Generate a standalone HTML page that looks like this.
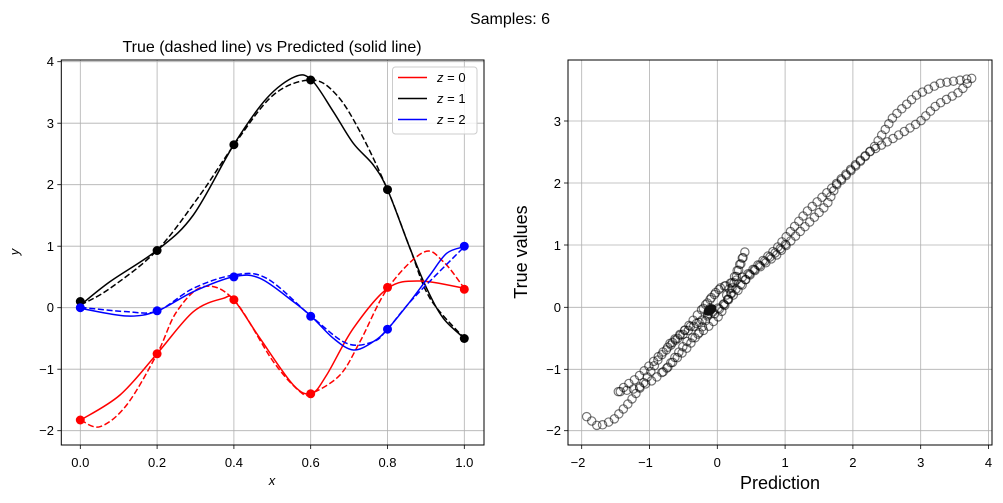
<!DOCTYPE html>
<html><head><meta charset="utf-8"><style>
body{margin:0;background:#fff;}
svg{display:block;font-family:"Liberation Sans","DejaVu Sans",sans-serif;}
</style></head><body>
<svg id="s" width="1003" height="503" viewBox="0 0 1003 503" xmlns="http://www.w3.org/2000/svg">
<rect width="1003" height="503" fill="#fff"/>
<text x="510" y="24" font-size="16" text-anchor="middle">Samples: 6</text>
<text x="272" y="52" font-size="16" text-anchor="middle">True (dashed line) vs Predicted (solid line)</text>
<g stroke="#b0b0b0" stroke-width="0.8">
<line x1="80.3" y1="60" x2="80.3" y2="445"/><line x1="157.1" y1="60" x2="157.1" y2="445"/><line x1="233.9" y1="60" x2="233.9" y2="445"/><line x1="310.7" y1="60" x2="310.7" y2="445"/><line x1="387.5" y1="60" x2="387.5" y2="445"/><line x1="464.3" y1="60" x2="464.3" y2="445"/>
<line x1="61.3" y1="61.7" x2="484" y2="61.7"/><line x1="61.3" y1="123.2" x2="484" y2="123.2"/><line x1="61.3" y1="184.7" x2="484" y2="184.7"/><line x1="61.3" y1="246.2" x2="484" y2="246.2"/><line x1="61.3" y1="307.7" x2="484" y2="307.7"/><line x1="61.3" y1="369.2" x2="484" y2="369.2"/><line x1="61.3" y1="430.7" x2="484" y2="430.7"/>
</g>
<g stroke="#000" stroke-width="0.8">
<line x1="80.3" y1="445" x2="80.3" y2="449"/><line x1="157.1" y1="445" x2="157.1" y2="449"/><line x1="233.9" y1="445" x2="233.9" y2="449"/><line x1="310.7" y1="445" x2="310.7" y2="449"/><line x1="387.5" y1="445" x2="387.5" y2="449"/><line x1="464.3" y1="445" x2="464.3" y2="449"/>
<line x1="57.3" y1="61.7" x2="61.3" y2="61.7"/><line x1="57.3" y1="123.2" x2="61.3" y2="123.2"/><line x1="57.3" y1="184.7" x2="61.3" y2="184.7"/><line x1="57.3" y1="246.2" x2="61.3" y2="246.2"/><line x1="57.3" y1="307.7" x2="61.3" y2="307.7"/><line x1="57.3" y1="369.2" x2="61.3" y2="369.2"/><line x1="57.3" y1="430.7" x2="61.3" y2="430.7"/>
</g>
<g font-size="13" text-anchor="middle">
<text x="80.3" y="467">0.0</text><text x="157.1" y="467">0.2</text><text x="233.9" y="467">0.4</text><text x="310.7" y="467">0.6</text><text x="387.5" y="467">0.8</text><text x="464.3" y="467">1.0</text>
</g>
<g font-size="13" text-anchor="end">
<text x="54" y="66">4</text><text x="54" y="128">3</text><text x="54" y="189">2</text><text x="54" y="251">1</text><text x="54" y="312">0</text><text x="54" y="374">−1</text><text x="54" y="435">−2</text>
</g>
<text x="272" y="485" font-size="13" font-style="italic" text-anchor="middle">x</text>
<text x="19" y="252" font-size="13" font-style="italic" text-anchor="middle" transform="rotate(-90 19 252)">y</text>
<g id="curves" transform="translate(60,55) scale(0.33333)" fill="none" stroke-width="4.5" stroke-linejoin="round"></g>
<g>
<circle cx="80.3" cy="301.5" r="4.5" fill="#000"/><circle cx="157.1" cy="250.5" r="4.5" fill="#000"/><circle cx="233.9" cy="144.7" r="4.5" fill="#000"/><circle cx="310.7" cy="80" r="4.5" fill="#000"/><circle cx="387.5" cy="189.6" r="4.5" fill="#000"/><circle cx="464.3" cy="338.5" r="4.5" fill="#000"/>
<circle cx="80.3" cy="420" r="4.5" fill="#f00"/><circle cx="157.1" cy="353.8" r="4.5" fill="#f00"/><circle cx="233.9" cy="299.7" r="4.5" fill="#f00"/><circle cx="310.7" cy="393.8" r="4.5" fill="#f00"/><circle cx="387.5" cy="287.4" r="4.5" fill="#f00"/><circle cx="464.3" cy="289.3" r="4.5" fill="#f00"/>
<circle cx="80.3" cy="307.7" r="4.5" fill="#00f"/><circle cx="157.1" cy="310.8" r="4.5" fill="#00f"/><circle cx="233.9" cy="276.9" r="4.5" fill="#00f"/><circle cx="310.7" cy="316.3" r="4.5" fill="#00f"/><circle cx="387.5" cy="329.2" r="4.5" fill="#00f"/><circle cx="464.3" cy="246.2" r="4.5" fill="#00f"/>
</g>
<rect x="61.3" y="60" width="422.7" height="385" fill="none" stroke="#000" stroke-width="1"/>
<rect x="392.5" y="67" width="84.5" height="67" rx="3" fill="#fff" fill-opacity="0.8" stroke="#ccc" stroke-width="1"/>
<line x1="398" y1="77.5" x2="427" y2="77.5" stroke="#f00" stroke-width="1.5"/>
<line x1="398" y1="98.5" x2="427" y2="98.5" stroke="#000" stroke-width="1.5"/>
<line x1="398" y1="119.5" x2="427" y2="119.5" stroke="#00f" stroke-width="1.5"/>
<g font-size="13"><text x="437" y="82"><tspan font-style="italic">z</tspan> = 0</text><text x="437" y="103"><tspan font-style="italic">z</tspan> = 1</text><text x="437" y="124"><tspan font-style="italic">z</tspan> = 2</text></g>

<g stroke="#b0b0b0" stroke-width="0.8">
<line x1="581.7" y1="60" x2="581.7" y2="445"/><line x1="649.5" y1="60" x2="649.5" y2="445"/><line x1="717.3" y1="60" x2="717.3" y2="445"/><line x1="785.1" y1="60" x2="785.1" y2="445"/><line x1="852.9" y1="60" x2="852.9" y2="445"/><line x1="920.7" y1="60" x2="920.7" y2="445"/><line x1="988.5" y1="60" x2="988.5" y2="445"/>
<line x1="568" y1="121" x2="992" y2="121"/><line x1="568" y1="183" x2="992" y2="183"/><line x1="568" y1="245" x2="992" y2="245"/><line x1="568" y1="307.3" x2="992" y2="307.3"/><line x1="568" y1="369.3" x2="992" y2="369.3"/><line x1="568" y1="430.7" x2="992" y2="430.7"/>
</g>
<g stroke="#000" stroke-width="0.8">
<line x1="581.7" y1="445" x2="581.7" y2="449"/><line x1="649.5" y1="445" x2="649.5" y2="449"/><line x1="717.3" y1="445" x2="717.3" y2="449"/><line x1="785.1" y1="445" x2="785.1" y2="449"/><line x1="852.9" y1="445" x2="852.9" y2="449"/><line x1="920.7" y1="445" x2="920.7" y2="449"/><line x1="988.5" y1="445" x2="988.5" y2="449"/>
<line x1="564" y1="121" x2="568" y2="121"/><line x1="564" y1="183" x2="568" y2="183"/><line x1="564" y1="245" x2="568" y2="245"/><line x1="564" y1="307.3" x2="568" y2="307.3"/><line x1="564" y1="369.3" x2="568" y2="369.3"/><line x1="564" y1="430.7" x2="568" y2="430.7"/>
</g>
<g font-size="13" text-anchor="middle">
<text x="578" y="467">−2</text><text x="645.5" y="467">−1</text><text x="717.3" y="467">0</text><text x="785.1" y="467">1</text><text x="852.9" y="467">2</text><text x="920.7" y="467">3</text><text x="988.5" y="467">4</text>
</g>
<g font-size="13" text-anchor="end">
<text x="561" y="126">3</text><text x="561" y="188">2</text><text x="561" y="250">1</text><text x="561" y="312">0</text><text x="561" y="374">−1</text><text x="561" y="435">−2</text>
</g>
<text x="780" y="489" font-size="18" text-anchor="middle">Prediction</text>
<text x="527" y="252" font-size="18" text-anchor="middle" transform="rotate(-90 527 252)">True values</text>
<g id="sc" transform="translate(560,55) scale(0.33333)" fill="none" stroke="#000" stroke-opacity="0.55" stroke-width="3.5"></g>
<ellipse cx="710" cy="310" rx="7" ry="5" fill="#111" transform="rotate(-35 710 310)"/>
<rect x="568" y="60" width="424" height="385" fill="none" stroke="#000" stroke-width="1"/>
</svg>
<script>
var ns="http://www.w3.org/2000/svg";
function cr(p){var d="M"+p[0][0]+","+p[0][1];
 for(var i=0;i<p.length-1;i++){var p0=p[i-1]||p[i],p1=p[i],p2=p[i+1],p3=p[i+2]||p2;
  d+=" C"+(p1[0]+(p2[0]-p0[0])/6)+","+(p1[1]+(p2[1]-p0[1])/6)+" "+(p2[0]-(p3[0]-p1[0])/6)+","+(p2[1]-(p3[1]-p1[1])/6)+" "+p2[0]+","+p2[1];}
 return d;}
var curves=[
["#000",0,[[62,750],[150,680],[292,585],[400,480],[522,268],[620,130],[705,65],[755,75],[820,170],[880,265],[940,330],[983,405],[1050,580],[1100,700],[1150,790],[1213,850]]],
["#000",1,[[62,750],[150,700],[292,585],[420,420],[522,270],[640,120],[755,75],[830,120],[900,230],[983,405],[1050,580],[1110,730],[1213,850]]],
["#f00",0,[[62,1095],[180,1020],[292,895],[400,770],[490,730],[522,735],[600,850],[700,990],[755,1015],[800,960],[880,820],[983,700],[1080,678],[1213,700]]],
["#f00",1,[[62,1095],[120,1115],[200,1050],[292,895],[350,770],[430,695],[522,735],[640,920],[720,1010],[755,1015],[840,960],[900,860],[983,700],[1090,592],[1150,620],[1213,700]]],
["#00f",0,[[62,760],[200,783],[292,768],[400,710],[522,665],[600,670],[700,740],[755,785],[820,850],[880,885],[940,860],[983,822],[1050,740],[1110,660],[1160,595],[1213,575]]],
["#00f",1,[[62,757],[200,770],[292,768],[400,700],[522,660],[620,670],[755,785],[860,865],[940,860],[983,822],[1060,730],[1213,575]]]];
var cg=document.getElementById('curves');
curves.forEach(function(c){var e=document.createElementNS(ns,'path');e.setAttribute('d',cr(c[2]));e.setAttribute('stroke',c[0]);if(c[1])e.setAttribute('stroke-dasharray','18,8');cg.appendChild(e);});
var paths=[
[[80,1085],[115,1115],[160,1095],[210,1040],[250,985],[300,905],[380,820],[440,745],[480,700],[560,660],[650,580],[740,470],[820,395],[880,335],[940,280],[1000,185],[1070,120],[1140,85],[1235,70]],
[[1235,70],[1200,110],[1130,150],[1080,200],[1000,250],[930,290],[880,340],[830,390],[800,450],[740,510],[710,540],[650,600],[580,650],[510,720],[480,780],[440,820],[380,860],[320,940],[280,975],[230,1000],[180,1010]],
[[430,760],[460,720],[490,690],[520,700],[500,740],[460,780],[430,770]],
[[500,720],[530,650],[555,590],[545,620],[520,690]],
[[330,865],[380,820],[420,800],[460,770],[500,740],[540,700],[570,655],[600,630],[650,590],[680,565]],
[[175,1010],[200,990],[230,970],[260,940],[300,900],[340,860],[380,830],[420,800]],
[[450,760],[440,790],[420,830],[380,880],[340,920],[300,960]]
];
var g=document.getElementById('sc'),step=20;
paths.forEach(function(p){var carry=0;
 for(var i=0;i<p.length-1;i++){var a=p[i],b=p[i+1],dx=b[0]-a[0],dy=b[1]-a[1],L=Math.hypot(dx,dy),t=carry;
  while(t<L){var c=document.createElementNS(ns,'circle');c.setAttribute('cx',a[0]+dx*t/L);c.setAttribute('cy',a[1]+dy*t/L);c.setAttribute('r',12.5);g.appendChild(c);t+=step;}
  carry=t-L;}
});
</script>
</body></html>
